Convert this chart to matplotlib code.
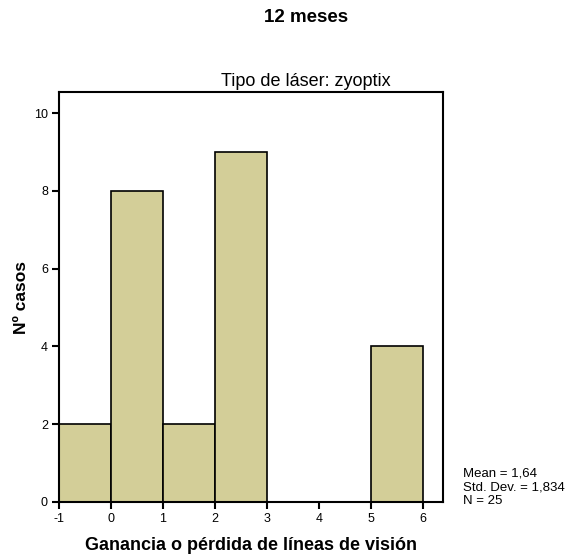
import matplotlib
matplotlib.use("Agg")
import matplotlib.pyplot as plt
import numpy as np

# histogram bins (left edges) and counts
bin_edges = [-1, 0, 1, 2, 3, 4, 5, 6]
counts = [2, 8, 2, 9, 0, 0, 4]
x_ticks = [-1, 0, 1, 2, 3, 4, 5, 6]
y_ticks = [0, 2, 4, 6, 8, 10]
stats_lines = ["Mean = 1,64", "Std. Dev. = 1,834", "N = 25"]

plt.rcParams['font.family'] = ['Liberation Sans', 'DejaVu Sans']
plt.rcParams['axes.unicode_minus'] = False

W, H = 565, 558
fig = plt.figure(figsize=(W / 100, H / 100), dpi=100)
ax = fig.add_axes([59 / W, 1 - 502 / H, (443 - 59) / W, (502 - 92) / H])

widths = np.diff(bin_edges)
ax.bar(bin_edges[:-1], counts, width=widths, align='edge',
       color='#d3ce98', edgecolor='black', linewidth=1.2)

ax.set_xlim(-1, 6.385)
ax.set_ylim(0, 10.54)
ax.set_xticks(x_ticks)
ax.set_yticks(y_ticks)
ax.tick_params(direction='out', length=5, width=1.5, labelsize=9, pad=3)
for s in ax.spines.values():
    s.set_linewidth(1.5)

ax.set_xlabel("Ganancia o pérdida de líneas de visión", fontsize=13,
              fontweight='bold', va='center')
ax.xaxis.set_label_coords(0.5, (502 - 545) / 410)
ax.set_ylabel("Nº casos", fontsize=12.5, fontweight='bold', va='center')
ax.yaxis.set_label_coords((22 - 59) / 384, 0.5)

fig.text(306 / W, 1 - 18 / H, "12 meses", ha='center', va='center',
         fontsize=13.5, fontweight='bold')
fig.text(306 / W, 1 - 82 / H, "Tipo de láser: zyoptix", ha='center',
         va='center', fontsize=13)

for i, line in enumerate(stats_lines):
    fig.text(463 / W, 1 - (473 + 14 * i) / H, line, ha='left',
             va='center', fontsize=9.5)

fig.savefig("out.png", dpi=100)
